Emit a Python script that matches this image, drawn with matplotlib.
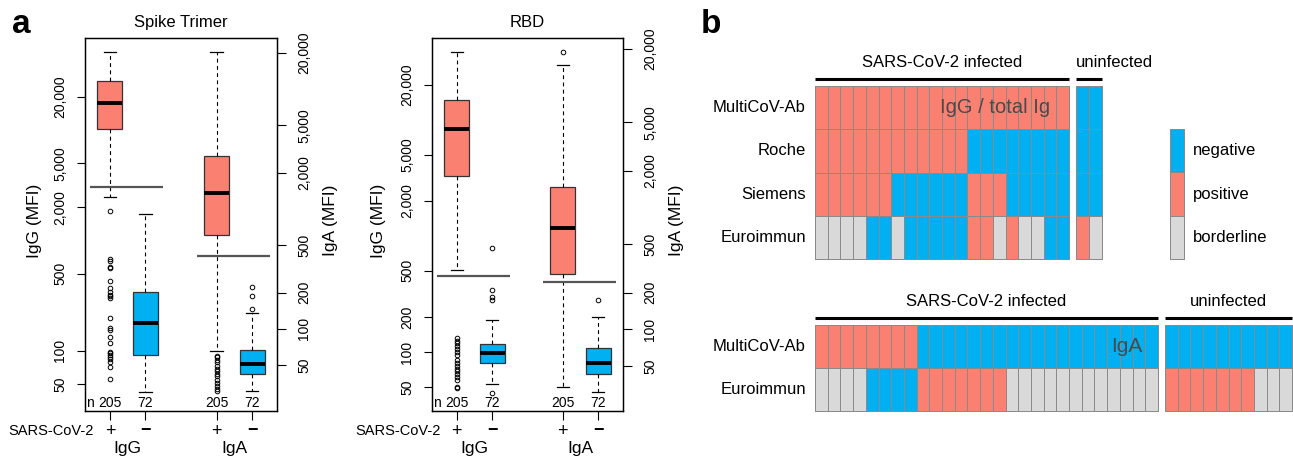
import matplotlib
matplotlib.use('Agg')
import matplotlib.pyplot as plt
import matplotlib.transforms as mtransforms
from matplotlib.colors import ListedColormap, BoundaryNorm
from matplotlib.ticker import NullLocator
import numpy as np

plt.rcParams['font.family'] = ['Liberation Sans', 'DejaVu Sans']

# ------------------------------------------------------------------ data (panel a)
GROUP_POS = [1, 2, 4, 5]
N_LABELS = ['205', '72', '205', '72']
SIGN_LABELS = ['+', '\u2212', '+', '\u2212']
ANTIBODY_LABELS = ['IgG', 'IgA']

# box stats: [lower whisker, Q1, median, Q3, upper whisker]
SPIKE_IGG_POS = [2460, 10200, 17600, 27900, 51300]
SPIKE_IGG_NEG = [42, 92, 179, 340, 1740]
SPIKE_IGA_POS = [65.8, 601, 1370, 2770, 20500]
SPIKE_IGA_NEG = [30.1, 42, 50.5, 67, 135.6]
SPIKE_IGG_POS_OUT = [1840, 684, 650, 573, 561, 431, 369, 343, 321, 313, 302, 197,
                     160, 155, 134, 118, 98, 95, 91, 88, 84, 80, 71, 55]
SPIKE_IGG_NEG_OUT = []
SPIKE_IGA_POS_OUT = [59.7, 57.8, 54.6, 52.5, 48.6, 46.5, 44.2, 42.3, 40.1, 37.7,
                     35.3, 33.1, 31.5, 30.1]
SPIKE_IGA_NEG_OUT = [223, 188, 146]
SPIKE_CUTOFF_IGG = 3040
SPIKE_CUTOFF_IGA = 402

RBD_IGG_POS = [503, 3270, 8300, 14600, 38100]
RBD_IGG_NEG = [52.6, 81, 98, 118, 188]
RBD_IGA_POS = [33.5, 283, 673, 1460, 14900]
RBD_IGA_NEG = [30.3, 42.6, 52.5, 70.5, 127]
RBD_IGG_POS_OUT = [131, 125, 119, 112, 107, 100, 94, 85, 81, 76, 72, 69, 65, 61,
                   58, 50, 49]
RBD_IGG_NEG_OUT = [782, 340, 298, 279, 44.6]
RBD_IGA_POS_OUT = [18900]
RBD_IGA_NEG_OUT = [173]
RBD_CUTOFF_IGG = 450
RBD_CUTOFF_IGA = 245

SPIKE_IGG_TICKS = [50, 100, 500, 2000, 5000, 20000]
RBD_IGG_TICKS = [50, 100, 200, 500, 2000, 5000, 20000]
IGA_TICKS = [50, 100, 200, 500, 2000, 5000, 20000]

# ------------------------------------------------------------------ data (panel b)
TOP_ROWS = ['MultiCoV-Ab', 'Roche', 'Siemens', 'Euroimmun']
TOP_INF_MULTICOV = list('PPPPPPPPPPPPPPPPPPPP')
TOP_INF_ROCHE = list('PPPPPPPPPPPPNNNNNNNN')
TOP_INF_SIEMENS = list('PPPPPPNNNNNNPPPNNNNN')
TOP_INF_EUROIMMUN = list('BBBBNNBNNNNNPPBPBBNN')
TOP_UNINF_MULTICOV = list('NN')
TOP_UNINF_ROCHE = list('NN')
TOP_UNINF_SIEMENS = list('NN')
TOP_UNINF_EUROIMMUN = list('PB')

BOT_ROWS = ['MultiCoV-Ab', 'Euroimmun']
BOT_INF_MULTICOV = list('PPPPPPPP' + 'N' * 19)
BOT_INF_EUROIMMUN = list('BBBBNNNNPPPPPPP' + 'B' * 12)
BOT_UNINF_MULTICOV = list('N' * 10)
BOT_UNINF_EUROIMMUN = list('PPPPPPPBBB')

LEGEND_CODES = ['N', 'P', 'B']
LEGEND_LABELS = ['negative', 'positive', 'borderline']

# ------------------------------------------------------------------ style
COL_POS = '#FA8072'
COL_NEG = '#00B0F0'
COL_BORD = '#D9D9D9'
CODE_ORDER = ['N', 'P', 'B']
CMAP = ListedColormap([COL_NEG, COL_POS, COL_BORD])
NORM = BoundaryNorm([-0.5, 0.5, 1.5, 2.5], 3)

W, H = 1293, 458
fig = plt.figure(figsize=(W / 100, H / 100), dpi=100)


def add_ax(x0, y0, x1, y1, **kw):
    return fig.add_axes([x0 / W, 1 - y1 / H, (x1 - x0) / W, (y1 - y0) / H], **kw)


def ftext(x, y, s, **kw):
    fig.text(x / W, 1 - y / H, s, **kw)


def draw_boxes(ax, boxes, outs, positions, colors):
    stats = []
    for b, o in zip(boxes, outs):
        stats.append(dict(whislo=b[0], q1=b[1], med=b[2], q3=b[3], whishi=b[4], fliers=o))
    bp = ax.bxp(stats, positions=positions, widths=0.7, capwidths=0.35,
                patch_artist=True, showfliers=True, manage_ticks=False,
                boxprops=dict(edgecolor='#333333', linewidth=0.9),
                medianprops=dict(color='black', linewidth=2.8, solid_capstyle='butt'),
                whiskerprops=dict(color='black', linewidth=0.8, linestyle=(0, (3.5, 3))),
                capprops=dict(color='black', linewidth=0.9),
                flierprops=dict(marker='o', markersize=3.3, markerfacecolor='none',
                                markeredgecolor='black', markeredgewidth=0.7,
                                linestyle='none'))
    for patch, c in zip(bp['boxes'], colors):
        patch.set_facecolor(c)
    return bp


def box_panel(rect, title, igg_lim, iga_lim, igg_ticks, iga_ticks,
              igg_boxes, igg_outs, iga_boxes, iga_outs, cut_igg, cut_iga,
              ylab_left_x, ylab_right_x):
    x0, y0, x1, y1 = rect
    hpx = y1 - y0
    ax = add_ax(x0, y0, x1, y1)
    ax.set_xlim(0.3, 5.7)
    ax.set_yscale('log')
    ax.set_ylim(*igg_lim)
    ax.set_yticks(igg_ticks)
    ax.set_yticklabels([f'{v:,}' for v in igg_ticks])
    ax.yaxis.set_minor_locator(NullLocator())
    ax.tick_params(axis='y', length=5.8, width=0.8, labelsize=10, pad=7, labelrotation=90)
    for lab in ax.get_yticklabels():
        lab.set_va('center')
    ax.set_xticks(GROUP_POS)
    ax.set_xticklabels([''] * len(GROUP_POS))
    ax.tick_params(axis='x', length=6.5, width=0.8)
    for s in ax.spines.values():
        s.set_linewidth(0.9)

    draw_boxes(ax, igg_boxes, igg_outs, GROUP_POS[:2], [COL_POS, COL_NEG])
    ax.hlines(cut_igg, 0.45, 2.5, color='#555555', linewidth=1.6, zorder=5)

    ax2 = ax.twinx()
    ax2.set_yscale('log')
    ax2.set_ylim(*iga_lim)
    ax2.set_yticks(iga_ticks)
    ax2.set_yticklabels([f'{v:,}' for v in iga_ticks])
    ax2.yaxis.set_minor_locator(NullLocator())
    ax2.tick_params(axis='y', length=6.5, width=0.8, labelsize=10, pad=8, labelrotation=90)
    for lab in ax2.get_yticklabels():
        lab.set_va('center')
    for s in ax2.spines.values():
        s.set_linewidth(0.9)
    draw_boxes(ax2, iga_boxes, iga_outs, GROUP_POS[2:], [COL_POS, COL_NEG])
    ax2.hlines(cut_iga, 3.45, 5.5, color='#555555', linewidth=1.6, zorder=5)

    tr = mtransforms.blended_transform_factory(ax.transData, ax.transAxes)
    # n counts
    ax.text(0.44, 8 / hpx, 'n', transform=tr, ha='center', va='center', fontsize=10)
    for p, n in zip(GROUP_POS, N_LABELS):
        ax.text(p, 8 / hpx, n, transform=tr, ha='center', va='center', fontsize=10)
    # signs
    for p, s in zip(GROUP_POS, SIGN_LABELS):
        ax.text(p, -20 / hpx, s, transform=tr, ha='center', va='center', fontsize=13,
                fontweight='bold' if s != '+' else 'normal', clip_on=False)
    ax.text(0.55, -20 / hpx, 'SARS-CoV-2', transform=tr, ha='right', va='center',
            fontsize=10.5, clip_on=False)
    ax.text(1.5, -37 / hpx, ANTIBODY_LABELS[0], transform=tr, ha='center', va='center',
            fontsize=12.5, clip_on=False)
    ax.text(4.5, -37 / hpx, ANTIBODY_LABELS[1], transform=tr, ha='center', va='center',
            fontsize=12.5, clip_on=False)
    ax.text(0.5, 1 + 16 / hpx, title, transform=ax.transAxes, ha='center', va='center',
            fontsize=12)
    ymid = (y0 + y1) / 2 - 4
    ftext(ylab_left_x, ymid, 'IgG (MFI)', rotation=90, ha='center', va='center', fontsize=12.5)
    ftext(ylab_right_x, ymid, 'IgA (MFI)', rotation=90, ha='center', va='center', fontsize=12.5)
    return ax, ax2


box_panel((85, 38, 277, 411), 'Spike Trimer', (28.5, 68500), (20.6, 26700),
          SPIKE_IGG_TICKS, IGA_TICKS,
          [SPIKE_IGG_POS, SPIKE_IGG_NEG], [SPIKE_IGG_POS_OUT, SPIKE_IGG_NEG_OUT],
          [SPIKE_IGA_POS, SPIKE_IGA_NEG], [SPIKE_IGA_POS_OUT, SPIKE_IGA_NEG_OUT],
          SPIKE_CUTOFF_IGG, SPIKE_CUTOFF_IGA, 34, 331)

box_panel((432, 38, 623, 411), 'RBD', (31.1, 50300), (21.3, 24600),
          RBD_IGG_TICKS, IGA_TICKS,
          [RBD_IGG_POS, RBD_IGG_NEG], [RBD_IGG_POS_OUT, RBD_IGG_NEG_OUT],
          [RBD_IGA_POS, RBD_IGA_NEG], [RBD_IGA_POS_OUT, RBD_IGA_NEG_OUT],
          RBD_CUTOFF_IGG, RBD_CUTOFF_IGA, 378, 676)

# ------------------------------------------------------------------ panel b


def heat(rect, rows, row_labels=None, label_side='left'):
    x0, y0, x1, y1 = rect
    ax = add_ax(x0, y0, x1, y1)
    M = np.array([[CODE_ORDER.index(c) for c in r] for r in rows])
    mesh = ax.pcolormesh(M, cmap=CMAP, norm=NORM, edgecolors='#8a8a8a', linewidth=0.72,
                         antialiased=True, snap=True)
    mesh.set_clip_on(False)
    ax.set_xlim(0, M.shape[1])
    ax.set_ylim(M.shape[0], 0)
    for s in ax.spines.values():
        s.set_visible(False)
    ax.set_xticks([])
    if row_labels is not None:
        ax.set_yticks(np.arange(M.shape[0]) + 0.5)
        ax.set_yticklabels(row_labels, fontsize=12)
        if label_side == 'right':
            ax.yaxis.tick_right()
        ax.tick_params(axis='y', length=0, pad=6.5)
        for lab in ax.get_yticklabels():
            lab.set_va('center')
    else:
        ax.set_yticks([])
    return ax, M.shape


def header(ax, shape, rect, text, ha='center'):
    x0, y0, x1, y1 = rect
    hpx = y1 - y0
    tr = mtransforms.blended_transform_factory(ax.transData, ax.transAxes)
    ax.plot([0, shape[1]], [1 + 7 / hpx, 1 + 7 / hpx], transform=tr, color='black',
            linewidth=2.2, clip_on=False, solid_capstyle='butt')
    xt = shape[1] / 2 if ha == 'center' else 0
    ax.text(xt, 1 + 24 / hpx, text, transform=tr, ha=ha, va='center', fontsize=12,
            clip_on=False)


r_ti = (815, 86, 1069, 259)
ax_ti, sh = heat(r_ti, [TOP_INF_MULTICOV, TOP_INF_ROCHE, TOP_INF_SIEMENS, TOP_INF_EUROIMMUN],
                 TOP_ROWS)
header(ax_ti, sh, r_ti, 'SARS-CoV-2 infected')
ax_ti.text(0.709, 1 - 0.5 / 4, 'IgG / total Ig', transform=ax_ti.transAxes, ha='center',
           va='center', fontsize=14.5, color='#4a4a4a')

r_tu = (1076, 86, 1102, 259)
ax_tu, sh = heat(r_tu, [TOP_UNINF_MULTICOV, TOP_UNINF_ROCHE, TOP_UNINF_SIEMENS,
                        TOP_UNINF_EUROIMMUN])
header(ax_tu, sh, r_tu, 'uninfected', ha='left')

r_bi = (815, 325, 1158, 411)
ax_bi, sh = heat(r_bi, [BOT_INF_MULTICOV, BOT_INF_EUROIMMUN], BOT_ROWS)
header(ax_bi, sh, r_bi, 'SARS-CoV-2 infected')
ax_bi.text(0.909, 1 - 0.5 / 2, 'IgA', transform=ax_bi.transAxes, ha='center',
           va='center', fontsize=15, color='#4a4a4a')

r_bu = (1165, 325, 1292, 411)
ax_bu, sh = heat(r_bu, [BOT_UNINF_MULTICOV, BOT_UNINF_EUROIMMUN])
header(ax_bu, sh, r_bu, 'uninfected')

r_lg = (1170, 129, 1184, 259)
heat(r_lg, [[c] for c in LEGEND_CODES], LEGEND_LABELS, label_side='right')

# panel letters
ftext(12, 33, 'a', fontsize=24, fontweight='bold', ha='left', va='baseline')
ftext(701, 33, 'b', fontsize=24, fontweight='bold', ha='left', va='baseline')

fig.savefig('out.png', dpi=100)
